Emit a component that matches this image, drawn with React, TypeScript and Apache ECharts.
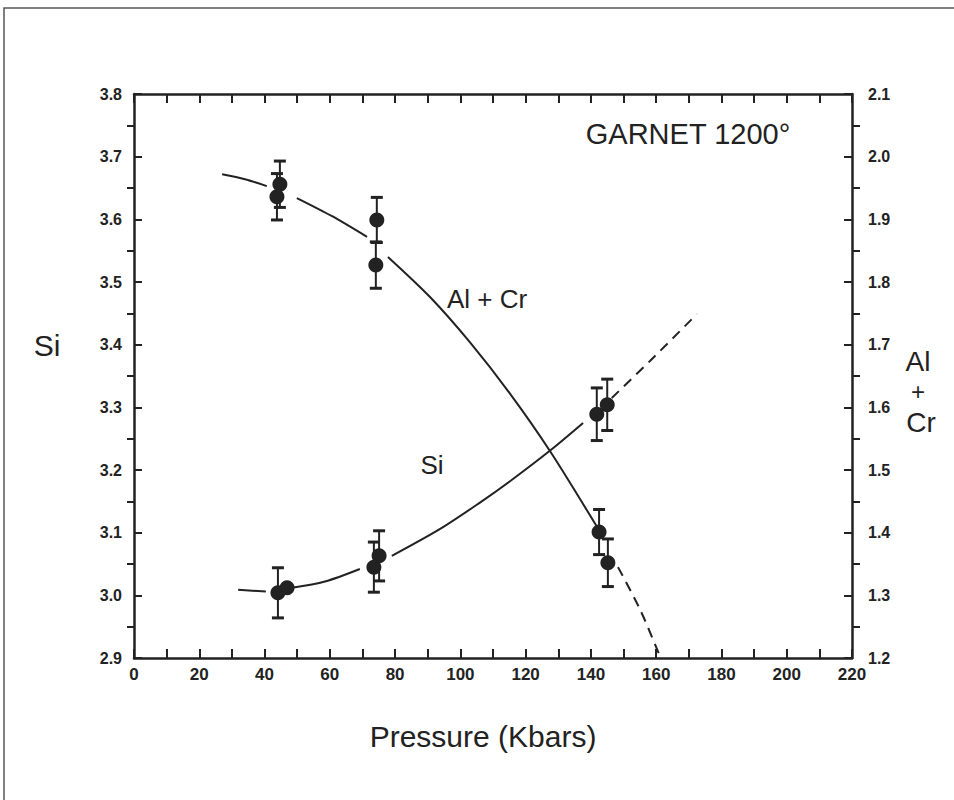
import React, { useEffect, useRef } from "react";
import * as echarts from "echarts";

// ---- data ----
const xTickInterval = 10;
const siAxisMinorTicks = [2.95, 3.05, 3.15, 3.25, 3.35, 3.45, 3.55, 3.65, 3.75];
const alAxisMinorTicks = [1.25, 1.35, 1.45, 1.55, 1.65, 1.75, 1.85, 1.95, 2.05];

// Si measurements (left axis)
const siX = [44.1, 46.9, 73.5, 75.1, 141.8, 145.0];
const siY = [3.004, 3.012, 3.045, 3.063, 3.289, 3.304];
const siErr = [0.04, 0, 0.04, 0.04, 0.042, 0.041];

// Al+Cr measurements (right axis)
const alX = [44.7, 43.8, 74.4, 74.1, 142.5, 145.2];
const alY = [1.956, 1.936, 1.899, 1.827, 1.401, 1.352];
const alErr = [0.037, 0.037, 0.036, 0.037, 0.036, 0.038];

// fitted curves, split where the original line is interrupted
const siCurve1 = [[31.9, 3.009], [40.4, 3.006]];
const siCurve2 = [[48.4, 3.012], [58.5, 3.022], [69.2, 3.042]];
const siCurve3 = [[79.0, 3.063], [93.8, 3.106], [106.0, 3.148], [115.2, 3.182], [127.5, 3.231], [137.6, 3.275]];
const siCurveDashed = [[146.4, 3.315], [158.1, 3.374], [172.5, 3.449]];

const alCurve1 = [[27.0, 1.972], [34.0, 1.964], [40.7, 1.953]];
const alCurve2 = [[49.9, 1.934], [60.7, 1.905], [71.4, 1.872]];
const alCurve3 = [[77.8, 1.84], [90.7, 1.776], [102.9, 1.704], [115.2, 1.622], [127.5, 1.53], [141.9, 1.409]];
const alCurveDashed = [[148.3, 1.345], [155.1, 1.277], [161.2, 1.202]];

const INK = "#222";
const FONT = "'Liberation Sans', Arial, Helvetica, sans-serif";

function zip(xs: number[], ys: number[], es?: number[]) {
  return xs.map((x, i) => (es ? [x, ys[i], es[i]] : [x, ys[i]]));
}

function errorBarRender(params: any, api: any) {
  const x = api.value(0);
  const y = api.value(1);
  const e = api.value(2);
  if (!e) return null;
  const top = api.coord([x, y + e]);
  const bot = api.coord([x, y - e]);
  const hw = 6;
  return {
    type: "group",
    children: [
      { type: "line", shape: { x1: top[0], y1: top[1], x2: bot[0], y2: bot[1] }, style: { stroke: INK, lineWidth: 2 } },
      { type: "line", shape: { x1: top[0] - hw, y1: top[1], x2: top[0] + hw, y2: top[1] }, style: { stroke: INK, lineWidth: 3 } },
      { type: "line", shape: { x1: bot[0] - hw, y1: bot[1], x2: bot[0] + hw, y2: bot[1] }, style: { stroke: INK, lineWidth: 3 } },
    ],
  };
}

function curve(data: number[][], yAxisIndex: number, dashed: boolean) {
  return {
    type: "line",
    data,
    yAxisIndex,
    smooth: 0.3,
    showSymbol: false,
    symbol: "none",
    silent: true,
    lineStyle: { color: INK, width: 2, type: dashed ? [10, 7] : "solid" },
    z: 2,
  };
}

function txt(text: string, x: number, y: number, size: number) {
  return {
    type: "text",
    x,
    y,
    style: {
      text,
      font: `${size}px ${FONT}`,
      fill: INK,
      textAlign: "center",
      textVerticalAlign: "middle",
      align: "center",
      verticalAlign: "middle",
    },
  };
}

export default function App() {
  const ref = useRef<HTMLDivElement>(null);
  useEffect(() => {
    if (!ref.current) return;
    const chart = echarts.init(ref.current, null, { renderer: "svg" });
    const tickLabel = { color: INK, fontSize: 16, fontWeight: "bold", fontFamily: FONT };
    const axisLine = { show: true, lineStyle: { color: INK, width: 2.5 } };
    chart.setOption({
      animation: false,
      backgroundColor: "#fff",
      grid: { left: 134, right: 102, top: 94, bottom: 142, containLabel: false },
      xAxis: [
        {
          type: "value",
          position: "bottom",
          min: 0,
          max: 220,
          interval: xTickInterval,
          axisLine,
          axisTick: { show: true, inside: true, length: 9, lineStyle: { color: INK, width: 2 } },
          axisLabel: {
            ...tickLabel,
            fontSize: 17,
            margin: 8,
            formatter: (v: number) => (Math.round(v) % 20 === 0 ? String(Math.round(v)) : ""),
          },
          splitLine: { show: false },
        },
        {
          type: "value",
          position: "top",
          min: 0,
          max: 220,
          interval: xTickInterval,
          axisLine,
          axisTick: { show: true, inside: true, length: 9, lineStyle: { color: INK, width: 2 } },
          axisLabel: { show: false },
          splitLine: { show: false },
        },
      ],
      yAxis: [
        {
          type: "value",
          position: "left",
          min: 2.9,
          max: 3.8,
          interval: 0.1,
          axisLine,
          axisTick: { show: true, inside: true, length: 8, lineStyle: { color: INK, width: 2 } },
          axisLabel: { ...tickLabel, margin: 12, formatter: (v: number) => v.toFixed(1) },
          splitLine: { show: false },
        },
        {
          type: "value",
          position: "left",
          min: 2.9,
          max: 3.8,
          axisLine: { show: false },
          axisTick: { show: true, inside: false, length: 7, customValues: siAxisMinorTicks, lineStyle: { color: INK, width: 2 } },
          axisLabel: { show: false },
          splitLine: { show: false },
        },
        {
          type: "value",
          position: "right",
          min: 1.2,
          max: 2.1,
          interval: 0.1,
          axisLine,
          axisTick: { show: true, inside: true, length: 8, lineStyle: { color: INK, width: 2 } },
          axisLabel: { ...tickLabel, margin: 16, formatter: (v: number) => v.toFixed(1) },
          splitLine: { show: false },
        },
        {
          type: "value",
          position: "right",
          min: 1.2,
          max: 2.1,
          axisLine: { show: false },
          axisTick: { show: true, inside: false, length: 8, customValues: alAxisMinorTicks, lineStyle: { color: INK, width: 2 } },
          axisLabel: { show: false },
          splitLine: { show: false },
        },
      ],
      graphic: [
        {
          type: "rect",
          shape: { x: 4, y: 8, width: 1000, height: 1000 },
          style: { fill: "none", stroke: "#555", lineWidth: 1.5 },
          silent: true,
        },
        txt("GARNET 1200°", 688, 134, 29),
        txt("Si", 47, 345, 30),
        txt("Al", 918, 361, 28),
        txt("+", 918, 391, 24),
        txt("Cr", 921, 422, 28),
        txt("Al + Cr", 487, 299, 26),
        txt("Si", 432, 465, 26),
        txt("Pressure (Kbars)", 483, 736, 30),
      ],
      series: [
        curve(siCurve1, 0, false),
        curve(siCurve2, 0, false),
        curve(siCurve3, 0, false),
        curve(siCurveDashed, 0, true),
        curve(alCurve1, 2, false),
        curve(alCurve2, 2, false),
        curve(alCurve3, 2, false),
        curve(alCurveDashed, 2, true),
        {
          type: "custom",
          yAxisIndex: 0,
          data: zip(siX, siY, siErr),
          encode: { x: 0, y: 1 },
          renderItem: errorBarRender,
          z: 3,
        },
        {
          type: "custom",
          yAxisIndex: 2,
          data: zip(alX, alY, alErr),
          encode: { x: 0, y: 1 },
          renderItem: errorBarRender,
          z: 3,
        },
        {
          type: "scatter",
          yAxisIndex: 0,
          data: zip(siX, siY),
          symbol: "circle",
          symbolSize: 15,
          itemStyle: { color: INK, opacity: 1 },
          z: 4,
        },
        {
          type: "scatter",
          yAxisIndex: 2,
          data: zip(alX, alY),
          symbol: "circle",
          symbolSize: 15,
          itemStyle: { color: INK, opacity: 1 },
          z: 4,
        },
      ],
    });
    return () => chart.dispose();
  }, []);
  return (
    <div
      ref={ref}
      style={{ position: "absolute", left: 0, top: 0, width: 954, height: 800, background: "#fff" }}
    />
  );
}
